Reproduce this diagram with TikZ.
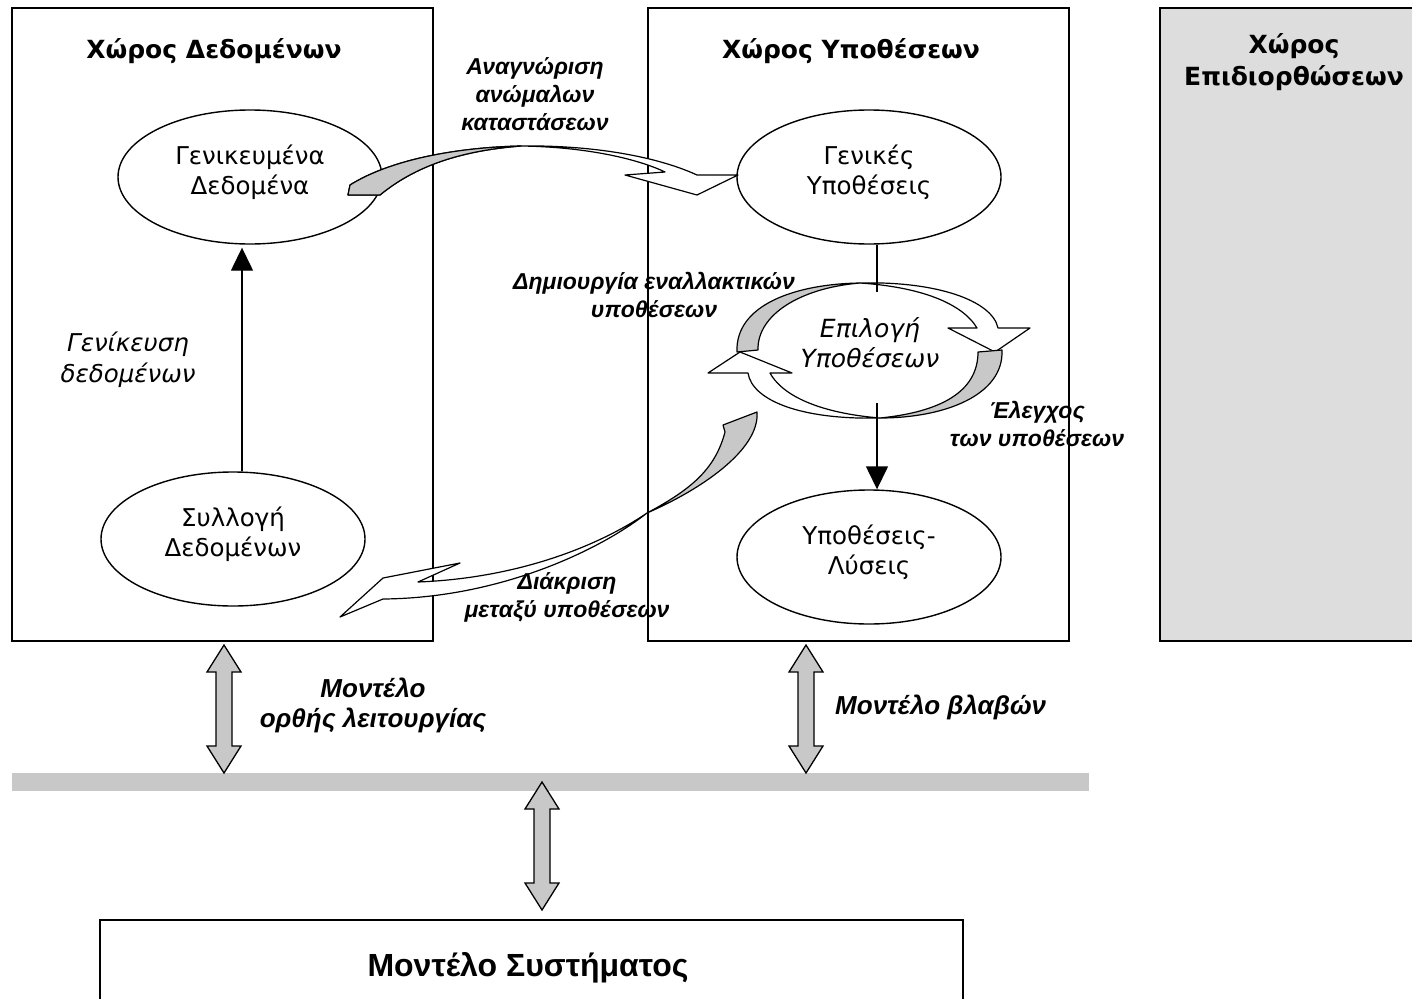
\documentclass[tikz,border=0pt]{standalone}
\usepackage{fontspec}
\usetikzlibrary{arrows.meta,shapes.geometric}
\newfontfamily\dvs{DejaVu Sans}
\newfontfamily\lib{Liberation Sans}
\definecolor{ribbon}{HTML}{C8C8C8}
\definecolor{panel}{HTML}{DDDDDD}
\definecolor{bar}{HTML}{C8C8C8}

\tikzset{
  spacebox/.style={draw, line width=1.5pt},
  title/.style={font=\dvs\bfseries\fontsize{25}{32}\selectfont, align=center, inner sep=0pt},
  bubble/.style={ellipse, draw, line width=1.4pt, minimum width=264pt, minimum height=134pt,
                 inner sep=0pt, align=center, text depth=14pt,
                 font=\dvs\fontsize{24.5}{30}\selectfont},
  seltext/.style={align=center, inner sep=0pt, font=\dvs\itshape\fontsize{25}{30}\selectfont},
  lbl/.style={font=\lib\bfseries\itshape\fontsize{23}{28}\selectfont, align=center, inner sep=0pt},
  biglbl/.style={font=\lib\bfseries\itshape\fontsize{26}{30}\selectfont, align=center, inner sep=0pt},
  lblplain/.style={font=\dvs\itshape\fontsize{24.5}{31}\selectfont, align=center, inner sep=0pt},
  ribbonline/.style={draw, line width=1.2pt, line join=round},
  flow/.style={draw, line width=1.4pt, -{Triangle[length=23pt,width=22pt]}},
  pics/updown/.style={code={
    \filldraw[fill=ribbon, line width=1.3pt, line join=miter]
      (0,0) -- (17,27) -- (8,27) -- (8,101) -- (17,101) -- (0,128)
      -- (-17,101) -- (-8,101) -- (-8,27) -- (-17,27) -- cycle;
  }}
}

\begin{document}
\begin{tikzpicture}[x=1pt,y=-1pt]
\useasboundingbox (0,0) rectangle (1412,998);
\clip (0,0) rectangle (1412,998);

% the three working spaces
\draw[spacebox] (12,8) rectangle (433,641);
\draw[spacebox] (648,8) rectangle (1069,641);
\filldraw[spacebox, fill=panel] (1160,8) rectangle (1430,641);

\node[title] (tdata) at (214,51) {Χώρος Δεδομένων};
\node[title] (thyp)  at (851,51) {Χώρος Υποθέσεων};
\node[title] (trep)  at (1294,62) {Χώρος\\Επιδιορθώσεων};

% data space
\node[bubble] (gdata) at (250,177) {Γενικευμένα\\Δεδομένα};
\node[bubble] (cdata) at (233,539) {Συλλογή\\Δεδομένων};
\coordinate (up) at (242,471);
\draw[flow, shorten >=3pt] (cdata.north -| up) -- (gdata.south -| up);
\node[lblplain] (lgen) at (128,360) {Γενίκευση\\δεδομένων};

% hypotheses space
\node[bubble] (ghyp) at (869,177) {Γενικές\\Υποθέσεις};
\node[bubble] (sol)  at (869,557) {Υποθέσεις-\\Λύσεις};

% circular arrows around the hypothesis selection
\filldraw[ribbonline, fill=white]
  (860,283) .. controls (935,281) and (992,300) .. (998,328)
  -- (1030,328) -- (995,352) -- (948,328) -- (977,328)
  .. controls (962,303) and (920,287) .. (860,283) -- cycle;
\filldraw[ribbonline, fill=ribbon]
  (737,352) .. controls (735,305) and (795,284) .. (860,283)
  .. controls (800,288) and (757,315) .. (758,350) -- cycle;
\filldraw[ribbonline, fill=white]
  (880,418) .. controls (800,420) and (752,400) .. (748,373)
  -- (708,373) -- (740,352) -- (792,373) -- (770,373)
  .. controls (785,400) and (830,414) .. (880,418) -- cycle;
\filldraw[ribbonline, fill=ribbon]
  (1002,350) .. controls (1004,395) and (945,418) .. (880,418)
  .. controls (940,412) and (978,392) .. (978,352) -- cycle;

\node[seltext] (sel) at (870,343) {Επιλογή\\Υποθέσεων};
\coordinate (s1) at (877,292);
\coordinate (s2) at (877,403);
\draw[line width=1.4pt] (ghyp.south -| s1) -- (s1);
\draw[flow] (s2) -- (sol.north -| s2);

\node[lbl] (lalt) at (654,295) {Δημιουργία εναλλακτικών\\υποθέσεων};
\node[lbl] (ltest) at (1037,424) {Έλεγχος\\των υποθέσεων};

% recognition of abnormal states
\filldraw[ribbonline, fill=white]
  (350,185) .. controls (390,160) and (455,147.5) .. (521,146)
  .. controls (587,145) and (653.5,155) .. (697,175)
  -- (738,175) -- (697,195) -- (625,175) -- (665,172)
  .. controls (640,160) and (590,147) .. (521,146)
  .. controls (470,150) and (420,162) .. (380,195) -- (348,195) -- cycle;
\filldraw[ribbonline, fill=ribbon]
  (350,185) .. controls (390,160) and (455,147.5) .. (521,146)
  .. controls (470,150) and (420,162) .. (380,195) -- (348,195) -- cycle;
\node[lbl] (lrec) at (535,94) {Αναγνώριση\\ανώμαλων\\καταστάσεων};

% discrimination between hypotheses
\filldraw[ribbonline, fill=white]
  (340,617) -- (383,578) -- (460,563) -- (418,582)
  .. controls (520,578) and (600,545) .. (647,513)
  .. controls (600,550) and (500,598) .. (383,599) -- cycle;
\filldraw[ribbonline, fill=ribbon]
  (647,513) .. controls (700,490) and (760,450) .. (757,412)
  -- (723,425) -- (725,432)
  .. controls (715,470) and (690,490) .. (647,513) -- cycle;
\node[lbl] (ldis) at (567,597) {Διάκριση\\μεταξύ υποθέσεων};

% models
\fill[bar] (12,773) rectangle (1089,791);
\coordinate (m1) at (224,645);
\coordinate (m2) at (806,645);
\coordinate (m3) at (542,782);
\pic at (m1) {updown};
\pic at (m2) {updown};
\pic at (m3) {updown};
\node[biglbl] (lnorm) at (373,705) {Μοντέλο\\ορθής λειτουργίας};
\node[biglbl, anchor=west] (lfault) at (835,707) {Μοντέλο βλαβών};

\draw[spacebox] (100,920) rectangle (963,1010);
\node[font=\lib\bfseries\fontsize{32}{36}\selectfont, inner sep=0pt] (sysm) at (528,968) {Μοντέλο Συστήματος};
\end{tikzpicture}
\end{document}
